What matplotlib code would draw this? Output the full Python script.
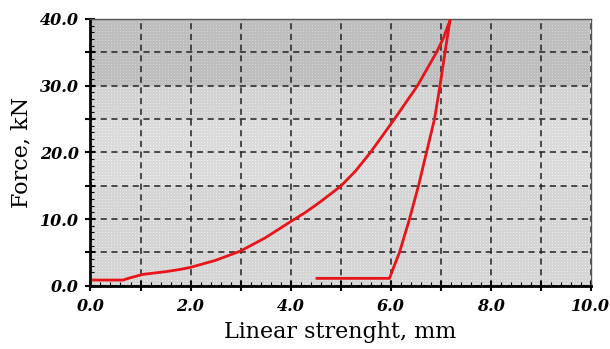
import numpy as np
import matplotlib.pyplot as plt
from matplotlib.ticker import MultipleLocator, FuncFormatter

# Loading branch (displacement mm, force kN)
load_x = [0.05, 0.65, 0.80, 1.05, 1.50, 1.80, 2.00, 2.50, 3.00, 3.50, 4.00,
          4.30, 4.60, 5.00, 5.30, 5.60, 6.08, 6.54, 6.92, 7.05, 7.19]
load_y = [0.85, 0.85, 1.2, 1.7, 2.1, 2.45, 2.75, 3.8, 5.2, 7.2, 9.6,
          11.0, 12.6, 14.9, 17.2, 20.0, 25.0, 30.0, 35.0, 37.0, 39.8]

# Unloading branch
unload_x = [7.19, 7.09, 6.99, 6.88, 6.72, 6.56, 6.38, 6.18, 6.05, 5.98, 4.53]
unload_y = [39.8, 35.0, 30.0, 25.0, 20.0, 15.0, 10.0, 5.0, 2.5, 1.1, 1.1]

fig = plt.figure(figsize=(6.1, 3.49), dpi=100)
ax = fig.add_axes([90.5 / 610, 1 - 285.7 / 349, 500 / 610, 266.7 / 349])

# textured grey background, darker toward the top
h, w = 267, 500
rows = np.linspace(40, 0, h)[:, None]
base = np.where(rows > 30, 0.76, np.where(rows > 25, 0.84, np.where(rows > 15, 0.87, 0.85)))
base = base + np.zeros((h, w))
yy, xx = np.mgrid[0:h, 0:w]
dots = ((xx % 3 == 0) & (yy % 3 == 0)) * 0.08 - ((xx + yy) % 2) * 0.03
bg = np.clip(base + dots, 0, 1)
ax.imshow(bg, cmap='gray', vmin=0, vmax=1, extent=[0, 10, 0, 40],
          aspect='auto', interpolation='nearest', zorder=0)

ax.plot(load_x, load_y, color='#e8141a', lw=2, zorder=3)
ax.plot(unload_x, unload_y, color='#e8141a', lw=2, zorder=3)

ax.set_xlim(0, 10)
ax.set_ylim(0, 40)
ax.xaxis.set_major_locator(MultipleLocator(1))
ax.xaxis.set_minor_locator(MultipleLocator(0.2))
ax.yaxis.set_major_locator(MultipleLocator(5))
ax.yaxis.set_minor_locator(MultipleLocator(1))
ax.xaxis.set_major_formatter(FuncFormatter(lambda v, p: f'{v:.1f}' if round(v) % 2 == 0 else ''))
ax.yaxis.set_major_formatter(FuncFormatter(lambda v, p: f'{v:.1f}' if round(v) % 10 == 0 else ''))

ax.grid(True, which='major', color='#222222', ls=(0, (4, 3)), lw=1.1, zorder=1)
ax.tick_params(which='major', direction='inout', length=7, width=1.5, pad=5)
ax.tick_params(which='minor', direction='in', length=3, width=0.8)
for lab in ax.get_xticklabels() + ax.get_yticklabels():
    lab.set_family('DejaVu Serif')
    lab.set_style('italic')
    lab.set_weight('bold')
    lab.set_fontsize(11.5)

for s in ['left', 'bottom']:
    ax.spines[s].set_linewidth(2)
for s in ['top', 'right']:
    ax.spines[s].set_linewidth(1)
    ax.spines[s].set_color('#555555')

ax.set_xlabel('Linear strenght, mm', family='DejaVu Serif', fontsize=16, labelpad=5)
ax.set_ylabel('Force, kN', family='DejaVu Serif', fontsize=16, labelpad=5)

fig.savefig('out.png', dpi=100)
